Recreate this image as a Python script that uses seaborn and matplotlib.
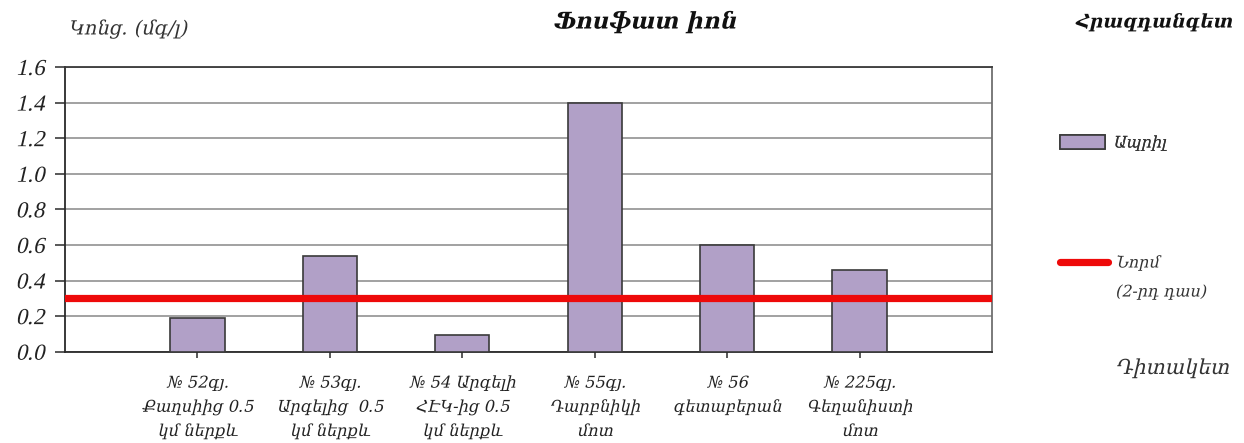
import numpy as np
import pandas as pd
import matplotlib
matplotlib.use("Agg")
import matplotlib.pyplot as plt
from matplotlib.patches import Patch
from matplotlib.lines import Line2D
from matplotlib.patheffects import AbstractPathEffect
from matplotlib.transforms import Affine2D
import seaborn as sns

# Observation points on the Hrazdan river
stations = [
    "№ 52գյ.\nՔաղսիից 0.5\nկմ ներքև",
    "№ 53գյ.\nԱրգելից  0.5\nկմ ներքև",
    "№ 54 Արգելի\nՀԷԿ-ից 0.5\nկմ ներքև",
    "№ 55գյ.\nԴարբնիկի\nմոտ",
    "№ 56\nգետաբերան",
    "№ 225գյ.\nԳեղանիստի\nմոտ",
]
# Phosphate ion concentration, April (mg/l)
april = [0.19, 0.54, 0.095, 1.40, 0.60, 0.46]
# Norm for water quality class 2 (mg/l)
norm_value = 0.3
y_ticks = [0.0, 0.2, 0.4, 0.6, 0.8, 1.0, 1.2, 1.4, 1.6]

title = "Ֆոսֆատ իոն"
river = "Հրազդանգետ"
y_label = "Կոնց. (մգ/լ)"
x_label = "Դիտակետ"
series_label = "Ապրիլ"
norm_label = "Նորմ"
norm_note = "(2-րդ դաս)"


class Slant(AbstractPathEffect):
    """Shear glyph outlines to give an oblique look to upright faces."""

    def __init__(self, angle=13):
        super().__init__()
        self._shear = Affine2D().skew_deg(angle, 0)

    def draw_path(self, renderer, gc, tpath, affine, rgbFace=None):
        renderer.draw_path(gc, tpath, self._shear + affine, rgbFace)


slant = [Slant()]

sns.set_style("white")
plt.rcParams["font.family"] = ["DejaVu Serif"]

df = pd.DataFrame({"station": stations, "value": april})

W, H = 1244, 443
fig = plt.figure(figsize=(W / 100, H / 100), dpi=100)
ax = fig.add_axes([65 / W, 91.3 / H, (992 - 65) / W, (351.7 - 67) / H])

bar_color = "#b1a0c7"
sns.barplot(data=df, x="station", y="value", color=bar_color, width=0.41,
            edgecolor="#3a3a3a", linewidth=1.2, saturation=1, ax=ax, zorder=3)
ax.axhline(norm_value, color="#ee0a0a", lw=5.2, zorder=4)

ax.set_xlim(-1, 6)
ax.set_ylim(0, 1.6)
ax.set_yticks(y_ticks)
ax.set_yticklabels([f"{t:.1f}" for t in y_ticks])
ax.set_xlabel("")
ax.set_ylabel("")

ax.yaxis.grid(True, color="#9a9a9a", lw=1.3, zorder=0)
ax.xaxis.grid(False)
ax.set_axisbelow(True)

for side in ["left", "bottom"]:
    ax.spines[side].set_color("#2a2a2a")
    ax.spines[side].set_linewidth(1.3)
ax.spines["top"].set_color("#3a3a3a")
ax.spines["top"].set_linewidth(1.3)
ax.spines["right"].set_color("#707070")
ax.spines["right"].set_linewidth(1.3)

ax.tick_params(axis="y", direction="out", length=7, width=1.1, color="#2a2a2a",
               pad=8, left=True, labelsize=16.5, labelcolor="#222222")
ax.tick_params(axis="x", direction="out", length=4.5, width=1.1, color="#2a2a2a",
               pad=12, bottom=True, labelsize=11.7, labelcolor="#222222")
for lbl in ax.get_yticklabels():
    lbl.set_family(["Liberation Serif", "DejaVu Serif"])
    lbl.set_path_effects(slant)
for lbl in ax.get_xticklabels():
    lbl.set_linespacing(1.55)
    lbl.set_path_effects(slant)

armen = ["DejaVu Serif"]
fig.text(644 / W, 1 - 22 / H, title, ha="center", va="center", fontsize=16.5,
         weight="bold", family=armen, color="#111111", path_effects=slant)
fig.text(68 / W, 1 - 29 / H, y_label, ha="left", va="center", fontsize=14,
         family=armen, color="#333333", path_effects=slant)
fig.text(1232 / W, 1 - 22 / H, river, ha="right", va="center", fontsize=13.5,
         weight="bold", family=armen, color="#111111", path_effects=slant)
fig.text(1115 / W, 1 - 368 / H, x_label, ha="left", va="center", fontsize=14.8,
         family=armen, color="#333333", path_effects=slant)

leg1 = fig.legend(handles=[Patch(facecolor=bar_color, edgecolor="#3a3a3a", lw=1.2)],
                  labels=[series_label], loc="center left",
                  bbox_to_anchor=(1060 / W, 1 - 143 / H), frameon=False,
                  handlelength=2.8, handleheight=0.9, handletextpad=0.5,
                  borderpad=0, borderaxespad=0,
                  prop={"family": armen, "size": 11.5})
leg2 = fig.legend(handles=[Line2D([], [], color="#ee0a0a", lw=5.2,
                                  solid_capstyle="round")],
                  labels=[norm_label], loc="center left",
                  bbox_to_anchor=(1060 / W, 1 - 263 / H), frameon=False,
                  handlelength=3.0, handletextpad=0.45,
                  borderpad=0, borderaxespad=0,
                  prop={"family": armen, "size": 11.5})
fig.add_artist(leg1)
for leg in (leg1, leg2):
    for t in leg.get_texts():
        t.set_color("#333333")
        t.set_path_effects(slant)
fig.text(1115 / W, 1 - 292 / H, norm_note, ha="left", va="center", fontsize=11.5,
         family=armen, color="#333333", path_effects=slant)

fig.savefig("out.png", dpi=100)
